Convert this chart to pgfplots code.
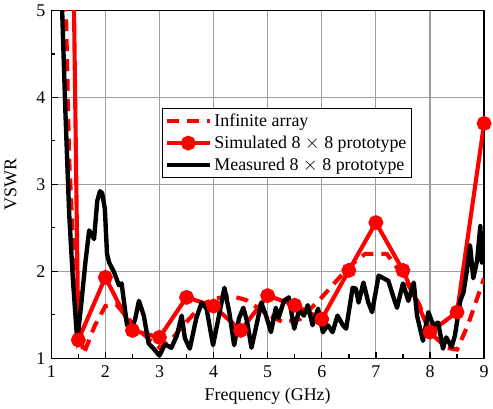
\documentclass[border=0pt]{standalone}
\usepackage{pgfplots}
\pgfplotsset{compat=1.18}
\usepackage{fontspec}
\setmainfont{Liberation Serif}
\begin{document}
\begin{tikzpicture}
\begin{axis}[
  scale only axis,
  width=326pt, height=262pt,
  xmin=1, xmax=9, ymin=1, ymax=5,
  xtick={1,...,9}, ytick={1,...,5},
  minor x tick num=1, minor y tick num=1,
  tick align=inside, xtick pos=bottom, ytick pos=left,
  major tick length=5pt, minor tick length=3pt,
  grid=major, grid style={gray!75, line width=0.8pt},
  axis line style={line width=1.1pt},
  every tick/.style={black, line width=1pt},
  tick label style={font=\fontsize{13.5}{15}\selectfont},
  x tick label style={yshift=-2pt},
  y tick label style={xshift=-1pt},
  label style={font=\fontsize{13.5}{15}\selectfont},
  /pgf/number format/assume math mode=true,
  xlabel={Frequency (GHz)}, ylabel={VSWR},
  xlabel style={yshift=-1pt},
  ylabel style={yshift=8pt},
  clip=true,
  legend style={at={(0.255,0.719)}, anchor=north west, draw=black, line width=0.8pt,
    font=\fontsize{13.5}{15}\selectfont, inner sep=2pt, row sep=1.5pt, cells={anchor=west}},
  legend image code/.code={\draw[mark repeat=2,mark phase=2,#1] plot coordinates {(0pt,0pt) (16pt,0pt) (32pt,0pt)};},
]
\addplot[red, line width=3.1pt, dash pattern=on 9pt off 6pt] coordinates {
(1.2,6.5) (1.25,5.6) (1.33,3.3) (1.39,2.5) (1.5,1.4) (1.6,1.05) (1.8,1.37) (2.0,1.6) (2.2,1.62)
(2.5,1.4) (2.8,1.22) (3.0,1.12) (3.2,1.2) (3.5,1.42) (3.8,1.62) (4.0,1.68) (4.3,1.72) (4.6,1.67)
(5.0,1.5) (5.3,1.41) (5.6,1.45) (6.0,1.7) (6.5,2.05) (6.8,2.2) (7.2,2.2) (7.5,1.95) (7.8,1.62)
(8.0,1.3) (8.3,1.12) (8.5,1.1) (8.7,1.38) (9.0,1.92)};
\addlegendentry{Infinite array}
\addplot[red, line width=3.1pt, mark=*, mark size=4pt, mark options={solid}] coordinates {
(1,25) (1.5,1.21) (2,1.93) (2.5,1.32) (3,1.24) (3.5,1.70) (4,1.60) (4.5,1.32) (5,1.72) (5.5,1.61)
(6,1.45) (6.5,2.01) (7,2.56) (7.5,2.01) (8,1.30) (8.5,1.53) (9,3.70)};
\addlegendentry{Simulated 8 $\times$ 8 prototype}
\addplot[black, line width=3.3pt, line join=round] coordinates {
(1.12,6.8) (1.17,5.6) (1.26,3.85) (1.33,2.67) (1.40,1.9) (1.48,1.2) (1.55,1.6) (1.63,2.1) (1.70,2.47)
(1.75,2.42) (1.79,2.37) (1.85,2.81) (1.90,2.92) (1.94,2.9) (1.99,2.72) (2.03,2.2) (2.07,2.1)
(2.16,1.99) (2.25,1.84) (2.3,1.86) (2.4,1.38) (2.49,1.34) (2.55,1.45) (2.62,1.66) (2.71,1.49)
(2.8,1.17) (2.89,1.11) (3.0,1.03) (3.1,1.16) (3.22,1.12) (3.32,1.26) (3.41,1.49) (3.47,1.23)
(3.56,1.11) (3.68,1.46) (3.78,1.64) (3.87,1.57) (3.99,1.15) (4.09,1.46) (4.2,1.81) (4.29,1.53)
(4.38,1.15) (4.47,1.46) (4.55,1.58) (4.62,1.42) (4.7,1.12) (4.8,1.4) (4.88,1.64) (4.97,1.49)
(5.06,1.3) (5.15,1.58) (5.2,1.46) (5.3,1.66) (5.39,1.7) (5.49,1.34) (5.58,1.55) (5.67,1.49)
(5.74,1.61) (5.83,1.38) (5.93,1.57) (6.02,1.3) (6.11,1.38) (6.2,1.3) (6.29,1.49) (6.39,1.38)
(6.45,1.34) (6.57,1.81) (6.63,1.8) (6.68,1.64) (6.77,1.87) (6.86,1.64) (6.93,1.53) (7.05,1.95)
(7.14,1.92) (7.23,1.89) (7.3,1.75) (7.39,1.58) (7.5,1.86) (7.6,1.66) (7.7,1.87) (7.76,1.49)
(7.87,1.2) (7.97,1.53) (8.06,1.38) (8.15,1.41) (8.24,1.11) (8.3,1.24) (8.4,1.13) (8.46,1.26)
(8.56,1.66) (8.62,1.76) (8.68,2.0) (8.74,2.3) (8.8,1.92) (8.87,2.12) (8.93,2.52) (8.96,2.1) (9.0,2.3)};
\addlegendentry{Measured 8 $\times$ 8 prototype}
\end{axis}
\end{tikzpicture}
\end{document}
